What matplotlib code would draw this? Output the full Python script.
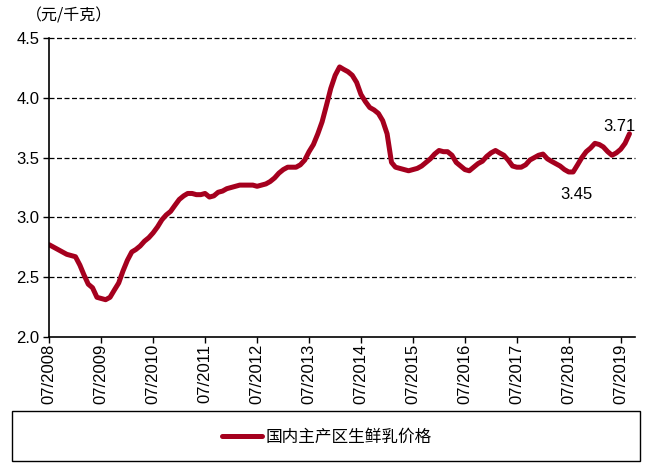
import matplotlib
matplotlib.use("Agg")
import matplotlib.pyplot as plt
from matplotlib.patches import Rectangle
import pandas as pd

# 国内主产区生鲜乳价格 (元/千克), monthly from 07/2008
start = "2008-07-01"
prices = [
    2.77, 2.75, 2.73, 2.71, 2.69, 2.68, 2.67, 2.60, 2.52, 2.44, 2.41, 2.33,  # 2008-07 .. 2009-06
    2.32, 2.31, 2.33, 2.39, 2.45, 2.55, 2.64, 2.71, 2.73, 2.76, 2.80, 2.83,  # 2009-07 .. 2010-06
    2.87, 2.92, 2.98, 3.02, 3.05, 3.10, 3.15, 3.18, 3.20, 3.20, 3.19, 3.19,  # 2010-07 .. 2011-06
    3.20, 3.17, 3.18, 3.21, 3.22, 3.24, 3.25, 3.26, 3.27, 3.27, 3.27, 3.27,  # 2011-07 .. 2012-06
    3.26, 3.27, 3.28, 3.30, 3.33, 3.37, 3.40, 3.42, 3.42, 3.42, 3.44, 3.48,  # 2012-07 .. 2013-06
    3.55, 3.61, 3.70, 3.80, 3.94, 4.08, 4.19, 4.26, 4.24, 4.22, 4.19, 4.13,  # 2013-07 .. 2014-06
    4.03, 3.97, 3.92, 3.90, 3.87, 3.81, 3.70, 3.46, 3.42, 3.41, 3.40, 3.39,  # 2014-07 .. 2015-06
    3.40, 3.41, 3.43, 3.46, 3.49, 3.53, 3.56, 3.55, 3.55, 3.52, 3.46, 3.43,  # 2015-07 .. 2016-06
    3.40, 3.39, 3.42, 3.45, 3.47, 3.51, 3.54, 3.56, 3.54, 3.52, 3.48, 3.43,  # 2016-07 .. 2017-06
    3.42, 3.42, 3.44, 3.48, 3.50, 3.52, 3.53, 3.49, 3.47, 3.45, 3.43, 3.40,  # 2017-07 .. 2018-06
    3.38, 3.38, 3.44, 3.50, 3.55, 3.58, 3.62, 3.61, 3.59, 3.55, 3.52, 3.54,  # 2018-07 .. 2019-06
    3.57, 3.62, 3.70,                                                        # 2019-07 .. 2019-09
]
dates = pd.date_range(start, periods=len(prices), freq="MS")

tick_years = list(range(2008, 2020))
y_ticks = [2.0, 2.5, 3.0, 3.5, 4.0, 4.5]
series_name = "国内主产区生鲜乳价格"
unit_label = "（元/千克）"
label_last = "3.71"
label_low = "3.45"

RED = "#A5001E"
CJK = ["Noto Sans CJK SC", "DejaVu Sans"]
NUM = ["Liberation Sans Narrow", "Liberation Sans", "DejaVu Sans"]

fig = plt.figure(figsize=(6.46, 4.63), dpi=100)
ax = fig.add_axes([0.0763, 0.2728, 0.9067, 0.6445])

line, = ax.plot(dates, prices, color=RED, lw=3.6, solid_joinstyle="round",
                solid_capstyle="round")

for v in y_ticks[1:]:
    ax.axhline(v, color="black", lw=0.9, ls=(0, (4, 2)), clip_on=False, zorder=0)

ax.set_ylim(2.0, 4.5)
ax.set_xlim(pd.Timestamp("2008-07-01"), pd.Timestamp("2019-10-10"))

ax.set_yticks(y_ticks)
ax.set_yticklabels([f"{v:.1f}" for v in y_ticks], family=NUM, fontsize=12)

xt = [pd.Timestamp(f"{y}-07-01") for y in tick_years]
ax.set_xticks(xt)
ax.set_xticklabels([f"07/{y}" for y in tick_years], rotation=90,
                   family=NUM, fontsize=12, va="top")

ax.tick_params(axis="both", direction="out", length=4, width=1, color="black")
ax.tick_params(axis="x", pad=1)
ax.tick_params(axis="y", pad=3)

for s in ["top", "right"]:
    ax.spines[s].set_visible(False)
for s in ["left", "bottom"]:
    ax.spines[s].set_linewidth(1.2)

# value labels
ax.text(pd.Timestamp("2019-06-20"), 3.76, label_last, family=NUM, fontsize=12,
        ha="center", va="center")
ax.text(pd.Timestamp("2018-08-25"), 3.19, label_low, family=NUM, fontsize=12,
        ha="center", va="center")

fig.text(0.040, 0.965, unit_label, family=CJK, fontsize=11.5, ha="left", va="center")

# legend box along the bottom
fig.patches.append(Rectangle((12 / 646, 1 - 461 / 463), 628 / 646, 50 / 463,
                             transform=fig.transFigure, fill=False,
                             edgecolor="black", lw=1.0))
fig.legend([line], [series_name], loc="center", bbox_to_anchor=(327 / 646, 1 - 437 / 463),
           frameon=False, prop={"family": CJK, "size": 12},
           handlelength=2.4, handletextpad=0.2)

fig.savefig("out.png", dpi=100)
